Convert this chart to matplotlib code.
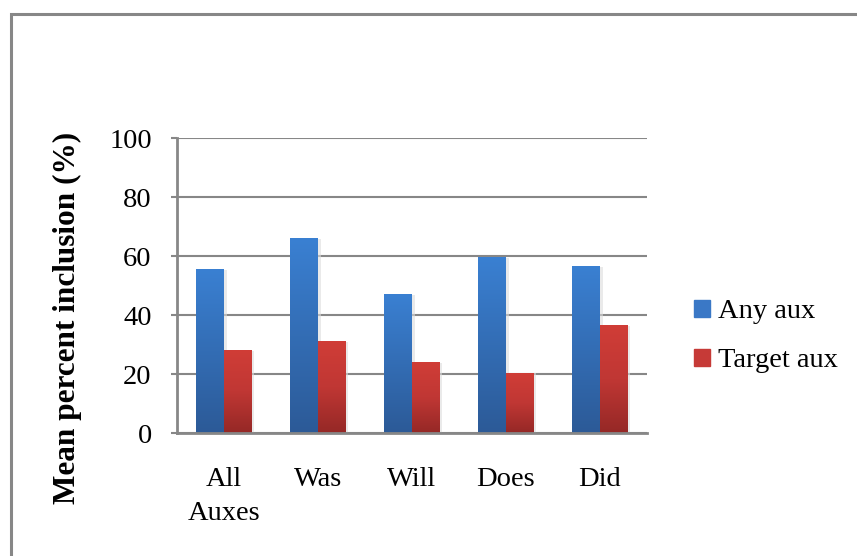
import numpy as np
import matplotlib
matplotlib.use("Agg")
import matplotlib.pyplot as plt
from matplotlib.colors import LinearSegmentedColormap
from matplotlib.patches import Rectangle

# Data
categories = ["All\nAuxes", "Was", "Will", "Does", "Did"]
any_aux = [55.4, 65.9, 46.9, 59.5, 56.4]
target_aux = [27.9, 30.9, 23.8, 20.3, 36.4]
yticks = [0, 20, 40, 60, 80, 100]

plt.rcParams['font.family'] = ['Liberation Serif', 'DejaVu Serif']

fig = plt.figure(figsize=(8.57, 5.56), dpi=100)
ax = fig.add_axes([0.2062, 0.2207, 0.5484, 0.5306])

# outer chart border
fig.patches.append(Rectangle((10.5 / 857, -0.1), 1.2, 1 - 13.5 / 556 + 0.1,
                             transform=fig.transFigure, fill=False,
                             edgecolor='#878787', linewidth=2.2))

blue_cmap = LinearSegmentedColormap.from_list('b', ['#2c5a97', '#3a80d2'])
red_cmap = LinearSegmentedColormap.from_list('r', ['#952826', '#c03734', '#d03d37'])
grad = np.linspace(0, 1, 256).reshape(-1, 1)

x = np.arange(len(categories))
w = 0.29

# soft shadows
ax.bar(x - w / 2 + 0.035, any_aux, w, color='#dcdcdc', alpha=0.6, zorder=1)
ax.bar(x + w / 2 + 0.035, target_aux, w, color='#dcdcdc', alpha=0.6, zorder=1)

b1 = ax.bar(x - w / 2, any_aux, w, color='none', label='Any aux', zorder=3)
b2 = ax.bar(x + w / 2, target_aux, w, color='none', label='Target aux', zorder=3)

for bars, cmap in [(b1, blue_cmap), (b2, red_cmap)]:
    for r in bars:
        x0, h = r.get_x(), r.get_height()
        ax.imshow(grad, extent=[x0, x0 + r.get_width(), 0, h], origin='lower',
                  aspect='auto', cmap=cmap, zorder=3)

ax.set_xlim(-0.5, len(categories) - 0.5)
ax.set_ylim(0, 100)
ax.set_yticks(yticks)
ax.set_xticks(x)
ax.set_xticklabels(categories, fontsize=20.5, linespacing=1.5)
ax.tick_params(axis='y', labelsize=20.5, length=4, width=1.5, color='#878787', pad=14)
ax.tick_params(axis='x', length=0, pad=24)

ax.grid(axis='y', color='#878787', linewidth=1.5, zorder=0)
ax.set_axisbelow(True)
for s in ['top', 'right']:
    ax.spines[s].set_visible(False)
for s in ['left', 'bottom']:
    ax.spines[s].set_color('#878787')
    ax.spines[s].set_linewidth(2)
    ax.spines[s].set_zorder(4)

fig.text(0.079, 0.429, 'Mean percent inclusion (%)', rotation=90, fontsize=22.5,
         fontweight='bold', ha='center', va='center')

h1 = Rectangle((0, 0), 1, 1, color='#3a78c6')
h2 = Rectangle((0, 0), 1, 1, color='#c63a37')
fig.legend([h1, h2], ['Any aux', 'Target aux'], loc='center left',
           bbox_to_anchor=(0.78, 0.395), frameon=False, fontsize=20.5,
           handlelength=0.55, handleheight=0.55, handletextpad=0.3,
           labelspacing=0.85)

fig.savefig('out.png', dpi=100)
